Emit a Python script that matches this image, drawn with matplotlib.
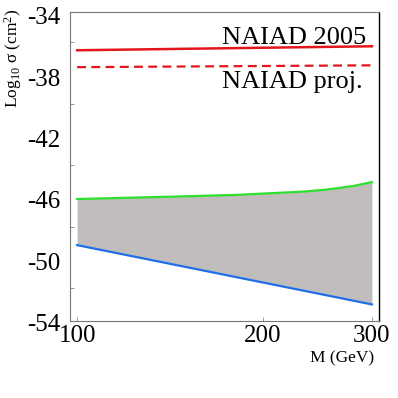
import numpy as np
import matplotlib.pyplot as plt
import matplotlib.transforms as mtransforms
from matplotlib.ticker import FixedLocator, NullFormatter

plt.rcParams['font.family'] = 'Liberation Serif'
plt.rcParams['mathtext.fontset'] = 'custom'
plt.rcParams['mathtext.rm'] = 'Liberation Serif'
plt.rcParams['mathtext.it'] = 'Liberation Serif:italic'
plt.rcParams['axes.unicode_minus'] = False

# curves (M in GeV, log10 sigma in cm^2)
m_naiad = [100, 300]
naiad_2005 = [-36.52, -36.26]
naiad_proj = [-37.62, -37.50]

m_band = [100, 141.5, 181.5, 232, 250, 263.5, 280, 300]
band_top = [-46.20, -46.05, -45.93, -45.72, -45.61, -45.50, -45.35, -45.10]
m_low = [100, 300]
band_low = [-49.20, -53.06]

xticks = [100, 200, 300]
yticks = [-34, -38, -42, -46, -50, -54]
yminor = [-36, -40, -44, -48, -52]

fig = plt.figure(figsize=(3.98, 3.98), dpi=100)
ax = fig.add_axes([0.176, 0.193, 0.776, 0.778])

low_interp = np.interp(np.log10(m_band), np.log10(m_low), band_low)
ax.fill_between(m_band, low_interp, band_top, color='#c1bdbd', lw=0)
ax.plot(m_band, band_top, color='#2ee02e', lw=1.6)
ax.plot(m_low, band_low, color='#1f6fe6', lw=1.6)
ax.plot(m_naiad, naiad_2005, color='#e3161e', lw=1.8)
ax.plot(m_naiad, naiad_proj, color='#e3161e', lw=1.6, dashes=(4, 2.4))

ax.text(0.958, 0.895, 'NAIAD 2005', transform=ax.transAxes, ha='right',
        va='baseline', fontsize=19)
ax.text(0.948, 0.753, 'NAIAD proj.', transform=ax.transAxes, ha='right',
        va='baseline', fontsize=19)

ax.set_xscale('log')
ax.set_xlim(97.4, 307.9)
ax.set_ylim(-54.15, -34)
ax.xaxis.set_major_locator(FixedLocator(xticks))
ax.xaxis.set_minor_locator(FixedLocator([]))
ax.xaxis.set_minor_formatter(NullFormatter())
ax.set_xticklabels([str(t) for t in xticks])
ax.set_yticks(yticks)
ax.set_yticks(yminor, minor=True)
ax.tick_params(which='both', direction='in', length=3, width=0.6,
               colors='#888888', labelcolor='black', labelsize=18)
ax.tick_params(axis='y', which='major', length=0)
ax.tick_params(axis='x', pad=3)
ax.tick_params(axis='y', pad=7)

# the y labels sit a little below their values in the original
shift = mtransforms.ScaledTranslation(0, -4 / 100, fig.dpi_scale_trans)
for lab in ax.get_yticklabels():
    lab.set_transform(lab.get_transform() + shift)

for s in ['left', 'bottom', 'top']:
    ax.spines[s].set_color('#777777')
    ax.spines[s].set_linewidth(0.8)
ax.spines['right'].set_color('black')
ax.spines['right'].set_linewidth(1.0)

fig.text(13 / 398, 1 - 58 / 398, r'Log$_{10}$ σ (cm$^2$)', rotation=90,
         ha='center', va='center', fontsize=12.5)
ax.text(0.985, -0.095, 'M (GeV)', transform=ax.transAxes, ha='right',
        va='top', fontsize=12.5)

fig.savefig('out.png', dpi=100)
